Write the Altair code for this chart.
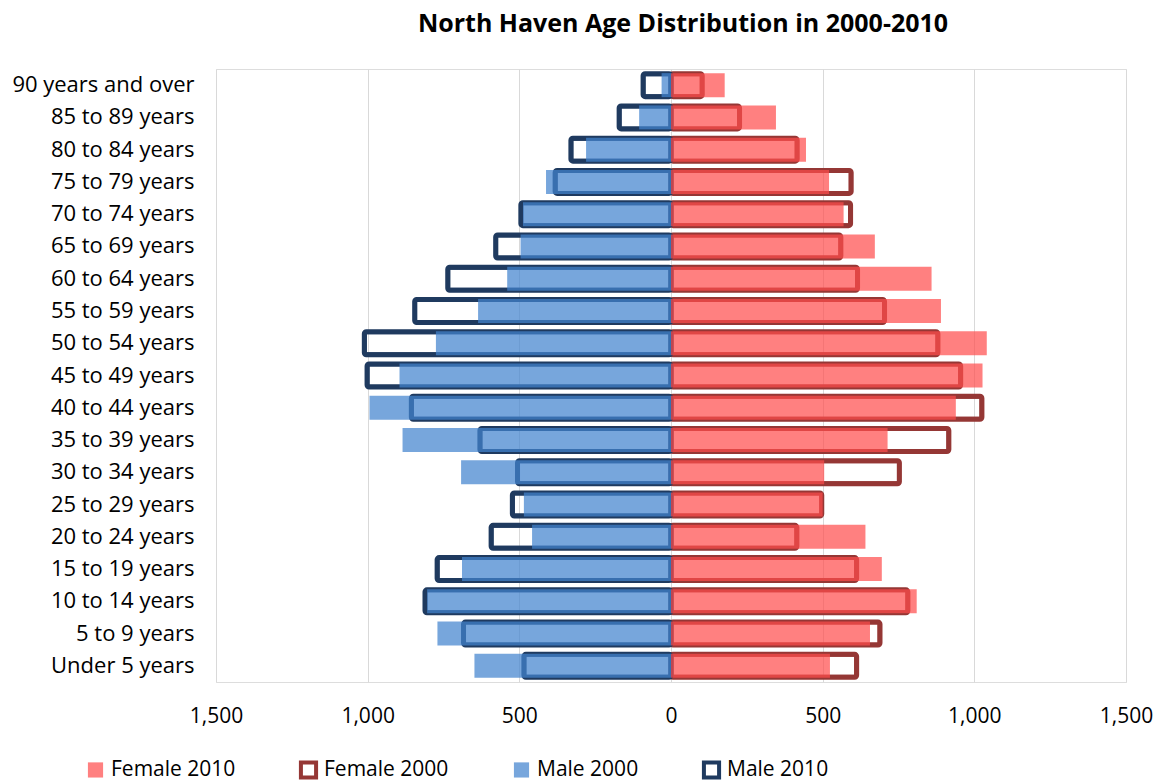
import altair as alt
import pandas as pd

# Age groups, oldest at the top
ages = [
    "90 years and over", "85 to 89 years", "80 to 84 years", "75 to 79 years",
    "70 to 74 years", "65 to 69 years", "60 to 64 years", "55 to 59 years",
    "50 to 54 years", "45 to 49 years", "40 to 44 years", "35 to 39 years",
    "30 to 34 years", "25 to 29 years", "20 to 24 years", "15 to 19 years",
    "10 to 14 years", "5 to 9 years", "Under 5 years",
]

male_2000 = [31, 105, 280, 412, 488, 496, 540, 636, 775, 895, 994, 885, 692, 485, 458, 689, 804, 770, 648]
male_2010 = [92, 171, 330, 382, 495, 578, 736, 845, 1011, 1002, 856, 630, 506, 523, 593, 771, 811, 684, 485]
female_2000 = [103, 226, 416, 594, 592, 560, 615, 704, 880, 955, 1025, 916, 753, 497, 415, 612, 781, 689, 612]
female_2010 = [177, 346, 445, 521, 569, 672, 859, 890, 1041, 1027, 939, 714, 505, 500, 641, 695, 810, 656, 524]

series_order = ["Female 2010", "Female 2000", "Male 2000", "Male 2010"]
fill_colors = {"Female 2010": "rgba(255,76,76,0.71)", "Male 2000": "rgba(67,132,207,0.72)"}
stroke_colors = {"Female 2000": "#953735", "Male 2010": "#1F3A5F"}

rows = []
for i, age in enumerate(ages):
    rows.append({"age": age, "series": "Female 2010", "value": female_2010[i]})
    rows.append({"age": age, "series": "Female 2000", "value": female_2000[i]})
    rows.append({"age": age, "series": "Male 2000", "value": -male_2000[i]})
    rows.append({"age": age, "series": "Male 2010", "value": -male_2010[i]})
df = pd.DataFrame(rows)

FONT = "Open Sans"

x_enc = alt.X(
    "value:Q",
    scale=alt.Scale(domain=[-1500, 1500], nice=False),
    axis=alt.Axis(
        title=None,
        values=[-1500, -1000, -500, 0, 500, 1000, 1500],
        labelExpr="format(abs(datum.value), ',')",
        grid=True, gridColor="#D9D9D9", gridWidth=1,
        domain=False, ticks=False, labelFlush=False,
        labelPadding=23, labelFontSize=21, labelColor="#000000", labelFont=FONT,
    ),
)
y_enc = alt.Y(
    "age:N", sort=ages,
    scale=alt.Scale(paddingInner=0, paddingOuter=0),
    axis=alt.Axis(
        title=None, ticks=False, domain=False, labelPadding=22, labelLimit=400,
        labelFontSize=22, labelColor="#000000", labelFont=FONT,
    ),
)

base = alt.Chart(df)

# outlined series (no fill), drawn first
outline_layers = [
    base.transform_filter(alt.datum.series == s).mark_bar(
        size=23, filled=False, stroke=c, strokeWidth=5, strokeJoin="round", cornerRadius=2
    ).encode(x=x_enc, y=y_enc)
    for s, c in stroke_colors.items()
]

# translucent filled series on top
fill_layers = [
    base.transform_filter(alt.datum.series == s).mark_bar(
        size=24, fill=c, strokeWidth=0
    ).encode(x=x_enc, y=y_enc)
    for s, c in fill_colors.items()
]

# legend: a symbol layer with no rows of its own; the fixed scale domain lists all series
legend_df = pd.DataFrame({"series": series_order})
legend_layer = alt.Chart(legend_df).transform_filter("false").mark_square(
    filled=True, opacity=1
).encode(
    fill=alt.Fill(
        "series:N",
        scale=alt.Scale(
            domain=series_order,
            range=[fill_colors["Female 2010"], "transparent", fill_colors["Male 2000"], "transparent"],
        ),
        legend=alt.Legend(
            title=None, orient="none", direction="horizontal",
            legendX=-131, legendY=690,
            symbolType="square", symbolSize=230, symbolStrokeWidth=4, symbolOpacity=1,
            labelFontSize=21, labelFont=FONT, labelColor="#000000",
            labelOffset=5, columnPadding=56,
        ),
    ),
    stroke=alt.Stroke(
        "series:N",
        scale=alt.Scale(
            domain=series_order,
            range=["transparent", stroke_colors["Female 2000"], "transparent", stroke_colors["Male 2010"]],
        ),
    ),
)

chart = alt.layer(*outline_layers, *fill_layers, legend_layer).properties(
    width=910,
    height=613,
    autosize=alt.AutoSizeParams(type="none"),
    padding={"left": 216, "top": 69, "right": 34, "bottom": 101},
    title=alt.TitleParams(
        "North Haven Age Distribution in 2000-2010",
        font=FONT, fontSize=25, fontWeight="bold", color="#000000",
        anchor="middle", offset=32, dx=12,
    ),
).configure_view(stroke=None).configure(background="white")

chart.save("out.html", embed_options={"renderer": "svg", "actions": False})
